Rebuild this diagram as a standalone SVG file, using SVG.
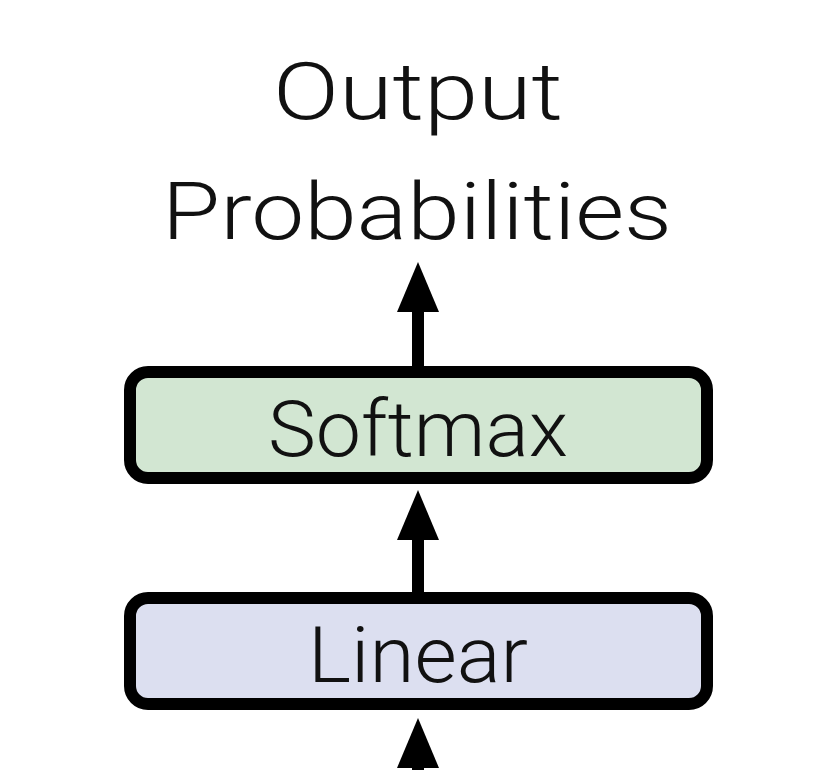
<svg xmlns="http://www.w3.org/2000/svg" width="832" height="770" viewBox="0 0 832 770">
<style>
.box{stroke:#000;stroke-width:12}
.t{font-family:Roboto,"Liberation Sans",Arial,sans-serif;font-weight:300;text-anchor:middle;fill:#111}
.sh{stroke:#000;stroke-width:12}
</style>
<rect width="832" height="770" fill="#fff"/>
<text class="t" x="418" y="119" font-size="80" textLength="290" lengthAdjust="spacingAndGlyphs">Output</text>
<text class="t" x="417" y="239" font-size="80" textLength="510" lengthAdjust="spacingAndGlyphs">Probabilities</text>
<g id="connectors">
<line class="sh" x1="418" y1="300" x2="418" y2="370"/>
<polygon points="418,262 397,312 439,312"/>
<line class="sh" x1="418" y1="530" x2="418" y2="596"/>
<polygon points="418,490 397,540 439,540"/>
<line class="sh" x1="418" y1="755" x2="418" y2="770"/>
<polygon points="418,718 397,768 439,768"/>
</g>
<g id="softmax">
<rect class="box" x="130" y="372" width="577" height="106" rx="18" fill="#d2e6d2"/>
<text class="t" x="418" y="456" font-size="78" textLength="300" lengthAdjust="spacingAndGlyphs">Softmax</text>
</g>
<g id="linear">
<rect class="box" x="130" y="598" width="577" height="106" rx="18" fill="#dcdff0"/>
<text class="t" x="418" y="682" font-size="78" textLength="220" lengthAdjust="spacingAndGlyphs">Linear</text>
</g>
</svg>
